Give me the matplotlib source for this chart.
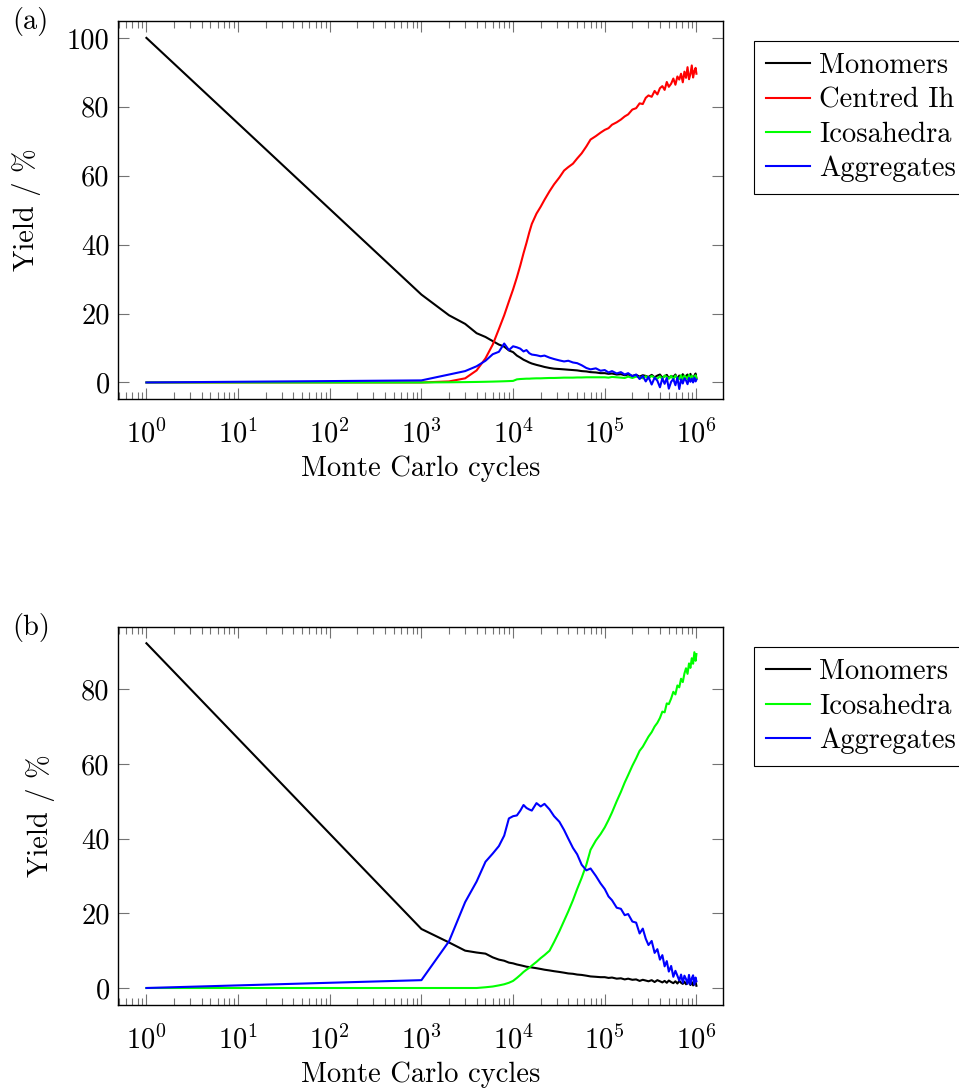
import matplotlib
matplotlib.use("Agg")
import matplotlib.pyplot as plt
from matplotlib.ticker import FixedLocator, FixedFormatter, LogLocator, NullFormatter

plt.rcParams.update({
    "font.family": "serif",
    "font.serif": ["cmr10", "DejaVu Serif"],
    "mathtext.fontset": "cm",
    "axes.formatter.use_mathtext": True,
    "axes.unicode_minus": False,
    "font.size": 20.5,
})

# Monte Carlo cycle at which each yield was recorded (shared by both runs)
cycles = [
    1, 1000, 2000, 3000, 4000, 5000, 6000, 7000, 8000, 9000,
    10000, 11000, 12000, 13000, 14000, 15000, 16000, 18000, 20000, 22000,
    25000, 28000, 32000, 36000, 40000, 45000, 50000, 56000, 63000, 70000,
    80000, 90000, 100000, 110000, 120000, 135000, 150000, 165000, 180000, 200000,
    220000, 240000, 260000, 280000, 300000, 325000, 350000, 375000, 400000, 425000,
    450000, 475000, 500000, 530000, 560000, 590000, 620000, 650000, 680000, 710000,
    740000, 770000, 800000, 830000, 860000, 890000, 920000, 950000, 980000, 1000000,
]

# (a) yields / %
a_monomers = [
    100, 25.5, 19.5, 17.0, 14.3, 13.2, 12.0, 11.0, 10.4, 9.3,
    8.8, 7.8, 7.2, 6.6, 6.2, 5.8, 5.5, 5.1, 4.8, 4.5,
    4.2, 4.0, 3.9, 3.8, 3.7, 3.6, 3.5, 3.3, 3.2, 3.0,
    2.9, 2.7, 2.7, 2.5, 2.6, 2.3, 2.4, 2.1, 2.3, 1.9,
    2.2, 1.7, 2.1, 1.9, 1.6, 2.2, 1.5, 2.0, 2.3, 1.4,
    1.8, 2.2, 1.2, 1.9, 1.6, 2.3, 1.1, 2.0, 1.4, 2.4,
    1.0, 1.9, 2.3, 1.0, 2.5, 1.4, 0.7, 2.0, 2.6, 1.2,
]
a_centred_ih = [
    0, 0, 0.3, 1.2, 3.5, 7.0, 11.0, 15.5, 19.5, 23.5,
    27.0, 30.5, 34.0, 37.5, 40.5, 43.5, 46.0, 49.0, 51.0, 53.0,
    55.5, 57.5, 59.5, 61.5, 62.5, 63.5, 65.0, 66.5, 68.5, 70.5,
    71.5, 72.5, 73.3, 73.8, 74.8, 75.5, 76.3, 77.2, 77.8, 79.2,
    79.6, 81.0, 80.8, 82.6, 83.3, 82.9, 84.6, 83.6, 85.4, 86.0,
    84.9, 87.2, 85.8, 86.7, 88.2, 86.4, 88.8, 87.9, 89.6, 87.1,
    90.2, 88.4, 91.5, 88.0, 89.5, 92.0, 88.5, 90.4, 91.3, 89.6,
]
a_icosahedra = [
    0, 0, 0.05, 0.1, 0.15, 0.2, 0.25, 0.3, 0.35, 0.4,
    0.45, 0.9, 1.0, 1.05, 1.1, 1.1, 1.15, 1.2, 1.2, 1.25,
    1.3, 1.3, 1.35, 1.4, 1.4, 1.4, 1.45, 1.45, 1.5, 1.5,
    1.5, 1.5, 1.5, 1.4, 1.6, 1.5, 1.4, 1.3, 1.7, 1.3,
    1.7, 1.5, 1.2, 1.8, 1.2, 1.9, 1.4, 1.1, 1.8, 1.0,
    2.0, 1.6, 1.1, 1.9, 0.9, 2.0, 1.3, 1.0, 2.1, 0.8,
    2.0, 1.5, 1.0, 2.2, 0.9, 2.0, 0.7, 1.6, 2.1, 1.2,
]
a_aggregates = [
    0, 0.6, 2.3, 3.3, 4.7, 6.3, 8.2, 8.9, 11.3, 9.4,
    10.5, 10.2, 9.8, 9.0, 9.4, 8.5, 8.1, 7.9, 7.6, 7.8,
    7.2, 6.8, 6.4, 6.1, 6.3, 5.8, 5.6, 5.0, 4.2, 3.8,
    4.1, 3.4, 3.6, 2.9, 3.3, 2.6, 3.0, 2.3, 2.7, 1.8,
    2.3, 1.0, 1.9, 0.3, 1.6, -0.6, 1.4, 0.5, -1.4, 1.2,
    -0.4, 1.3, -1.8, 0.2, 1.0, -0.8, 1.4, -1.9, 0.9, -0.3,
    1.2, 0.6, -0.5, 1.3, 0.2, 1.1, 0.0, 1.4, 0.3, 0.8,
]

# (b) yields / %
b_monomers = [
    92.3, 15.8, 12.2, 10.0, 9.5, 9.2, 8.2, 7.6, 7.3, 6.8,
    6.6, 6.3, 6.1, 5.9, 5.7, 5.6, 5.5, 5.3, 5.1, 4.9,
    4.7, 4.5, 4.3, 4.1, 3.9, 3.8, 3.6, 3.5, 3.3, 3.1,
    3.0, 2.9, 2.9, 2.7, 2.8, 2.5, 2.6, 2.3, 2.5, 2.2,
    2.3, 1.9, 2.2, 2.0, 1.8, 2.1, 1.6, 2.1, 1.8, 1.5,
    1.9, 1.4, 2.0, 1.6, 1.3, 1.8, 1.2, 1.9, 1.4, 1.1,
    1.7, 1.0, 1.5, 1.8, 0.8, 1.6, 0.7, 1.3, 1.5, 0.6,
]
b_icosahedra = [
    0, 0, 0, 0, 0, 0.2, 0.4, 0.7, 1.0, 1.4,
    1.9, 2.7, 3.5, 4.3, 4.9, 5.4, 6.0, 7.0, 8.0, 8.8,
    10.0, 12.3, 15.2, 18.0, 20.5, 23.5, 26.5, 29.5, 33.0, 37.0,
    39.5, 41.2, 43.0, 45.0, 47.0, 50.0, 52.5, 55.0, 57.0, 59.5,
    61.5, 63.5, 64.6, 66.0, 67.3, 68.5, 70.0, 71.0, 72.3, 74.0,
    73.8, 76.2, 76.0, 77.5, 79.3, 78.6, 81.0, 80.5, 82.8, 81.9,
    84.2, 85.6, 84.1, 86.9, 85.7, 88.3, 86.8, 89.9, 87.6, 89.4,
]
b_aggregates = [
    0, 2.1, 12.5, 23.0, 28.5, 33.8, 36.0, 38.0, 40.8, 45.4,
    46.0, 46.2, 47.5, 49.0, 48.2, 47.8, 47.5, 49.5, 48.6, 49.3,
    47.8, 46.0, 44.5, 42.3, 40.0, 37.5, 35.8, 33.0, 31.5, 32.0,
    30.0, 28.0, 26.5, 24.5, 23.5, 21.5, 21.2, 19.5, 19.8, 17.8,
    17.5, 14.6, 15.9, 13.2, 11.5, 12.6, 9.4, 10.4, 7.6, 8.8,
    5.8, 7.2, 4.4, 5.9, 3.0, 4.6, 3.3, 2.0, 3.6, 1.4,
    3.3, 2.4, 1.1, 3.5, 1.0, 2.6, 3.4, 0.9, 2.8, 1.8,
]

decade_ticks = [1, 10, 100, 1000, 10000, 100000, 1000000]
decade_labels = [r"$\mathrm{10^{0}}$", r"$\mathrm{10^{1}}$", r"$\mathrm{10^{2}}$",
                 r"$\mathrm{10^{3}}$", r"$\mathrm{10^{4}}$", r"$\mathrm{10^{5}}$",
                 r"$\mathrm{10^{6}}$"]
yticks_a = [0, 20, 40, 60, 80, 100]
yticks_b = [0, 20, 40, 60, 80]

series_a = [("Monomers", a_monomers, "#000000"),
            ("Centred Ih", a_centred_ih, "#ff0000"),
            ("Icosahedra", a_icosahedra, "#00ff00"),
            ("Aggregates", a_aggregates, "#0000ff")]
series_b = [("Monomers", b_monomers, "#000000"),
            ("Icosahedra", b_icosahedra, "#00ff00"),
            ("Aggregates", b_aggregates, "#0000ff")]

fig = plt.figure(figsize=(9.59, 10.9), dpi=100)
W, H = 959.0, 1090.0


def panel(rect_px, series, yticks, ylim, tag, ylabel_pad):
    left, top, right, bottom = rect_px
    ax = fig.add_axes([left / W, 1 - bottom / H, (right - left) / W, (bottom - top) / H])
    for name, vals, col in series:
        ax.plot(cycles, vals, color=col, lw=1.5, label=name)
    ax.set_xscale("log")
    ax.set_xlim(10 ** -0.31, 10 ** 6.29)
    ax.set_ylim(*ylim)
    ax.xaxis.set_major_locator(FixedLocator(decade_ticks))
    ax.xaxis.set_major_formatter(FixedFormatter(decade_labels))
    ax.xaxis.set_minor_locator(LogLocator(base=10, subs=range(2, 10), numticks=50))
    ax.xaxis.set_minor_formatter(NullFormatter())
    ax.set_yticks(yticks)
    ax.set_yticklabels([str(v) for v in yticks])
    ax.tick_params(which="both", direction="in", top=True, right=True,
                   color="0.45", width=0.8)
    ax.tick_params(which="major", length=8)
    ax.tick_params(which="minor", length=5)
    ax.tick_params(axis="x", which="major", pad=15)
    ax.tick_params(axis="y", which="major", pad=6)
    for sp in ax.spines.values():
        sp.set_linewidth(1.0)
        sp.set_color("black")
    ax.set_xlabel("Monte Carlo cycles", labelpad=5)
    ax.set_ylabel("Yield / %", labelpad=ylabel_pad)
    leg = ax.legend(loc="upper left",
                    bbox_to_anchor=((754 - left) / (right - left), 1 - 20 / (bottom - top)),
                    borderaxespad=0, frameon=True, fancybox=False, framealpha=1,
                    edgecolor="black", handlelength=1.53, handletextpad=0.35,
                    borderpad=0.42, labelspacing=0.28)
    leg.get_frame().set_linewidth(0.8)
    fig.text(12 / W, 1 - top / H, tag, ha="left", va="center")
    return ax


panel((118, 21, 723, 399), series_a, yticks_a, (-4.8, 104.9), "(a)", 19)
panel((118, 627, 723, 1005), series_b, yticks_b, (-4.55, 96.65), "(b)", 19)

fig.savefig("out.png", dpi=100)
